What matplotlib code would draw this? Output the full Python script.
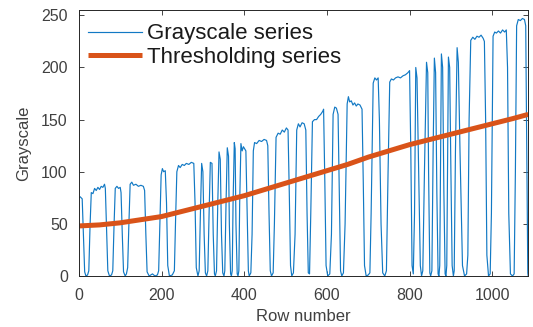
import matplotlib
matplotlib.use("Agg")
import matplotlib.pyplot as plt

# Grayscale series (row number, grayscale value)
gray_x = [0, 3, 8, 11, 14, 17, 21, 24, 27, 30, 34, 38, 42, 46, 50, 54, 58, 62, 64, 67, 70, 74, 79, 82, 85, 88,
          92, 96, 100, 102, 105, 108, 112, 115, 118, 121, 124, 128, 132, 138, 144, 150, 156, 159, 162, 165, 170,
          178, 184, 190, 193, 196, 199, 202, 205, 209, 212, 215, 219, 226, 231, 234, 237, 241, 245, 250, 255, 260,
          266, 272, 278, 281, 284, 288, 291, 294, 297, 300, 303, 306, 309, 312, 315, 318, 322, 325, 328, 330, 333,
          336, 339, 342, 345, 348, 351, 353, 356, 359, 362, 364, 367, 369, 371, 373, 376, 378, 380, 383, 385, 387,
          389, 392, 395, 398, 401, 404, 407, 410, 412, 416, 419, 422, 425, 430, 436, 442, 448, 454, 457, 460, 463,
          466, 470, 473, 477, 482, 487, 492, 497, 502, 506, 509, 512, 515, 519, 523, 527, 531, 535, 540, 545, 549,
          552, 555, 558, 561, 565, 570, 575, 580, 585, 590, 592, 595, 598, 602, 607, 611, 615, 619, 623, 627, 630,
          633, 636, 640, 644, 649, 652, 655, 659, 663, 667, 671, 675, 680, 685, 688, 691, 695, 700, 704, 707, 712,
          716, 720, 724, 727, 731, 735, 740, 744, 748, 752, 756, 761, 766, 772, 778, 784, 790, 796, 800, 803, 806,
          809, 812, 815, 818, 822, 826, 829, 832, 836, 841, 844, 846, 849, 851, 854, 857, 860, 863, 866, 869, 871,
          873, 877, 880, 883, 886, 888, 890, 894, 897, 900, 903, 906, 908, 911, 915, 918, 922, 928, 933, 938, 941,
          944, 948, 953, 958, 963, 968, 973, 978, 981, 984, 987, 991, 995, 998, 1002, 1006, 1010, 1015, 1020, 1025,
          1030, 1034, 1037, 1040, 1044, 1049, 1053, 1056, 1059, 1063, 1068, 1073, 1078, 1081, 1084, 1086, 1087]
gray_y = [75, 76, 74, 40, 4, 0, 1, 5, 48, 80, 79, 84, 82, 85, 83, 86, 85, 88, 84, 45, 5, 0, 1, 5, 48, 84,
          86, 84, 85, 80, 40, 4, 0, 2, 8, 50, 88, 90, 87, 88, 86, 87, 86, 82, 40, 4, 0,
          2, 0, 1, 5, 50, 97, 103, 100, 101, 70, 10, 0, 1, 5, 55, 100, 106, 104, 107, 106, 108,
          107, 109, 108, 70, 8, 0, 5, 60, 108, 100, 40, 3, 0, 5, 60, 109, 108, 40, 2, 0, 5,
          70, 119, 112, 40, 3, 0, 5, 70, 123, 115, 50, 2, 0, 5, 70, 128, 122, 50, 2, 0, 5,
          70, 127, 120, 124, 122, 120, 60, 5, 0, 3, 40, 120, 128, 127, 130, 129, 131, 130, 125, 60, 5,
          0, 3, 50, 133, 137, 136, 140, 138, 142, 140, 80, 10, 0, 3, 40, 140, 146, 143, 147, 146, 140,
          60, 3, 2, 60, 148, 150, 150, 153, 155, 158, 160, 90, 10, 0, 2, 40, 155, 162, 161, 155, 80,
          5, 0, 3, 50, 165, 172, 167, 168, 164, 166, 163, 165, 164, 160, 90, 10, 0, 1, 3, 60, 185,
          190, 188, 190, 150, 50, 3, 0, 5, 100, 186, 189, 188, 190, 191, 190, 192, 193, 195, 197, 120, 10,
          2, 60, 200, 190, 100, 10, 0, 5, 100, 205, 195, 100, 3, 0, 5, 120, 209, 195, 80, 2, 0,
          10, 213, 200, 80, 2, 0, 10, 210, 200, 100, 10, 0, 5, 120, 219, 205, 120, 10, 0, 2, 20,
          150, 226, 229, 227, 230, 229, 231, 228, 225, 150, 20, 0, 2, 60, 230, 234, 233, 235, 233, 236,
          234, 236, 200, 60, 2, 0, 2, 100, 240, 246, 245, 247, 246, 240, 100, 3, 0]

# Thresholding series
thresh_x = [0, 50, 100, 150, 200, 250, 300, 350, 400, 450, 500, 550, 600, 650, 700, 750, 800, 850, 900, 950,
            1000, 1050, 1087]
thresh_y = [48, 49, 51, 54, 57, 62, 67, 72, 77, 83, 89, 95, 101, 107, 114, 120, 126, 131, 136, 141,
            146, 151, 155]

xticks = [0, 200, 400, 600, 800, 1000]
yticks = [0, 50, 100, 150, 200, 250]

plt.rcParams['font.family'] = ['Liberation Sans', 'DejaVu Sans']
fig = plt.figure(figsize=(5.33, 3.27), dpi=100)
ax = fig.add_axes([0.148, 0.156, 0.843, 0.813])

ax.plot(gray_x, gray_y, color='#1279C4', lw=0.85, label='Grayscale series')
ax.plot(thresh_x, thresh_y, color='#D95319', lw=3.6, label='Thresholding series', solid_capstyle='butt')

ax.set_xlim(0, 1087)
ax.set_ylim(0, 255)
ax.set_xticks(xticks)
ax.set_yticks(yticks)
txtc = '#404040'
ax.tick_params(direction='in', top=True, right=True, length=3.5, width=0.6, colors='#262626',
               labelsize=11.5, labelcolor=txtc)
ax.tick_params(axis='x', pad=9)
ax.tick_params(axis='y', pad=8)
for s in ax.spines.values():
    s.set_color('#262626')
    s.set_linewidth(0.7)
ax.set_xlabel('Row number', fontsize=12, color=txtc, labelpad=4)
ax.set_ylabel('Grayscale', fontsize=12, color=txtc, labelpad=7)

leg = ax.legend(loc='upper left', bbox_to_anchor=(0.02, 0.95), frameon=False, fontsize=16,
                handlelength=2.45, handletextpad=0.2, labelspacing=0.1, borderpad=0, borderaxespad=0)
for t in leg.get_texts():
    t.set_color('#1a1a1a')

fig.savefig('out.png', dpi=100)
